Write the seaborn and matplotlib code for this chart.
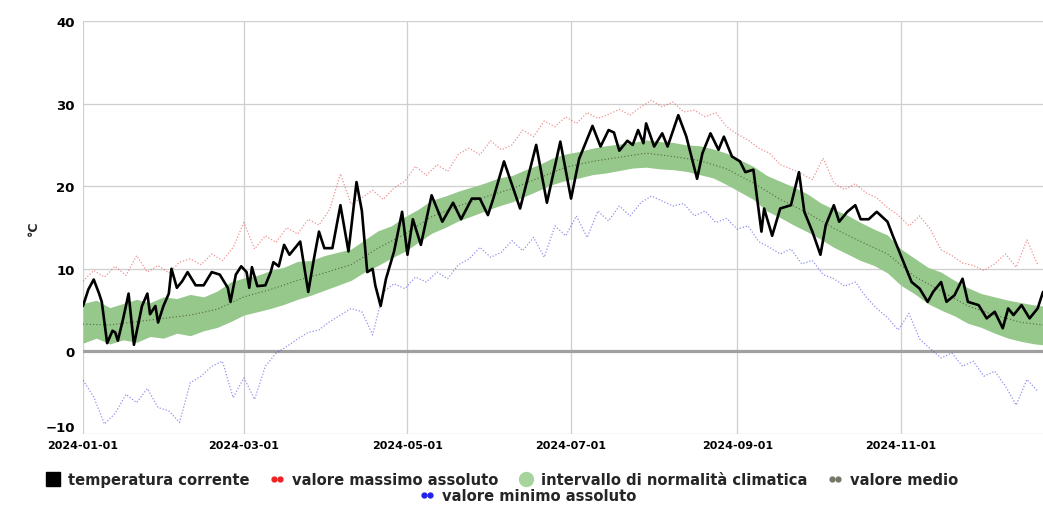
import numpy as np
import pandas as pd
import matplotlib
matplotlib.use("Agg")
import matplotlib.pyplot as plt
import seaborn as sns
from matplotlib.lines import Line2D
from matplotlib.legend_handler import HandlerLine2D

# -----------------------------
# Data (days counted from 2024-01-01)
# -----------------------------
temp_days = [0, 2, 4, 6, 7, 9, 11, 12, 13, 15,
             17, 19, 22, 24, 25, 27, 28, 30, 32, 33,
             35, 37, 39, 42, 45, 48, 51, 54, 55, 57,
             59, 61, 62, 63, 65, 68, 70, 71, 73, 75,
             77, 80, 81, 84, 86, 88, 90, 93, 96, 99,
             102, 104, 106, 108, 109, 111, 113, 116, 119, 121,
             123, 126, 130, 134, 138, 141, 145, 148, 151, 153,
             157, 163, 169, 173, 178, 182, 185, 190, 193, 196,
             198, 200, 203, 205, 207, 209, 210, 213, 216, 218,
             222, 225, 229, 231, 234, 237, 239, 242, 245, 247,
             250, 253, 254, 257, 260, 264, 267, 269, 272, 275,
             277, 280, 282, 285, 288, 290, 293, 296, 300, 302,
             306, 309, 312, 315, 317, 320, 322, 325, 328, 330,
             334, 337, 340, 343, 345, 347, 350, 353, 356, 358]
temp_vals = [5.5, 7.5, 8.7, 7.0, 6.0, 1.0, 2.5, 2.3, 1.3, 4.0,
             7.0, 0.8, 5.5, 7.0, 4.5, 5.5, 3.5, 5.5, 7.0, 10.0,
             7.7, 8.5, 9.6, 8.0, 8.0, 9.6, 9.3, 7.7, 6.0, 9.3,
             10.3, 9.6, 7.7, 10.2, 7.9, 8.0, 9.6, 10.8, 10.3, 12.9,
             11.7, 12.9, 13.3, 7.2, 11.0, 14.5, 12.5, 12.5, 17.7, 12.1,
             20.5, 17.0, 9.6, 10.0, 8.0, 5.5, 8.8, 12.1, 16.9, 11.7,
             16.0, 12.9, 18.9, 15.7, 18.0, 16.0, 18.5, 18.5, 16.5, 18.5,
             23.0, 17.3, 25.0, 18.0, 25.4, 18.5, 23.3, 27.3, 24.8, 26.8,
             26.5, 24.3, 25.5, 25.0, 26.8, 25.2, 27.6, 24.8, 26.4, 24.8,
             28.6, 26.0, 20.9, 24.0, 26.4, 24.4, 26.0, 23.6, 23.0, 21.7,
             22.0, 14.5, 17.3, 14.0, 17.3, 17.7, 21.7, 16.9, 14.5, 11.7,
             15.3, 17.7, 15.7, 16.9, 17.7, 16.0, 16.0, 16.9, 15.7, 14.0,
             10.8, 8.4, 7.6, 6.0, 7.2, 8.4, 6.0, 6.8, 8.8, 6.0,
             5.6, 4.0, 4.8, 2.8, 5.2, 4.4, 5.6, 4.0, 5.2, 7.2]

ext_days = list(range(0, 357, 4))
max_vals = [8.5, 9.8, 9.0, 10.3, 9.2, 11.6, 9.6, 10.4, 9.5, 10.8,
            11.2, 10.5, 11.8, 11.0, 12.6, 15.6, 12.4, 14.0, 13.2, 15.0,
            14.2, 16.0, 15.3, 17.2, 21.5, 17.8, 18.6, 19.5, 18.4, 19.8,
            20.6, 22.4, 21.3, 22.6, 21.8, 23.9, 24.6, 23.8, 25.5, 24.4,
            25.0, 26.8, 26.0, 27.9, 27.2, 28.4, 27.6, 28.9, 28.2, 28.7,
            29.3, 28.6, 29.6, 30.4, 29.6, 30.2, 29.0, 29.2, 28.4, 28.9,
            27.2, 26.3, 25.6, 24.6, 24.0, 22.6, 22.1, 21.5, 20.8, 23.4,
            20.4, 19.6, 20.3, 19.2, 18.6, 17.4, 16.5, 15.2, 16.4, 14.8,
            12.3, 11.6, 10.7, 10.4, 9.8, 10.6, 11.8, 10.2, 13.5, 10.5]
min_vals = [-3.5, -5.5, -8.8, -7.5, -5.2, -6.2, -4.5, -6.8, -7.2, -8.6,
            -3.8, -3.0, -1.8, -1.2, -5.6, -3.2, -5.8, -1.8, -0.2, 0.6,
            1.5, 2.3, 2.6, 3.6, 4.4, 5.2, 4.8, 2.0, 7.2, 8.2,
            7.6, 9.0, 8.4, 9.6, 8.8, 10.5, 11.2, 12.6, 11.4, 12.0,
            13.4, 12.2, 13.8, 11.4, 15.2, 14.0, 16.4, 13.8, 17.0, 15.8,
            17.6, 16.4, 18.0, 18.8, 18.2, 17.6, 17.9, 16.4, 17.0, 15.6,
            16.1, 14.8, 15.2, 13.3, 12.6, 11.8, 12.4, 10.6, 11.0, 9.3,
            8.8, 7.9, 8.4, 6.6, 5.2, 4.1, 2.6, 4.6, 1.5, 0.3,
            -0.8, -0.2, -1.8, -1.2, -3.0, -2.4, -4.2, -6.5, -3.4, -4.8]

band_days = list(range(0, 356, 5)) + [358]
band_high = [5.8, 6.2, 5.3, 5.8, 6.3, 5.9, 6.6, 6.4, 6.9, 6.6,
             7.3, 8.4, 8.9, 9.2, 9.8, 10.2, 10.9, 11.0, 11.6, 12.0,
             12.4, 13.5, 14.6, 15.2, 16.3, 17.2, 18.3, 18.8, 19.4, 19.9,
             20.4, 21.0, 21.3, 22.0, 22.6, 23.4, 23.9, 24.2, 24.6, 24.9,
             25.1, 25.3, 25.6, 25.4, 25.3, 25.0, 24.9, 24.5, 24.0, 23.2,
             22.4, 21.3, 20.6, 19.9, 19.1, 18.0, 17.2, 16.5, 15.6, 14.8,
             14.1, 12.4, 11.3, 10.2, 9.6, 8.6, 7.7, 7.0, 6.6, 6.2,
             5.9, 5.6, 5.5]
band_low = [1.0, 1.6, 0.9, 1.4, 1.1, 1.8, 1.6, 2.2, 1.9, 2.5,
            2.9, 3.6, 4.4, 4.8, 5.2, 5.7, 6.3, 6.8, 7.4, 8.0,
            8.6, 9.6, 10.4, 11.3, 12.1, 13.2, 14.3, 15.0, 15.8, 16.4,
            17.0, 17.6, 18.1, 18.8, 19.5, 20.2, 20.7, 21.0, 21.4, 21.6,
            21.9, 22.2, 22.3, 22.1, 22.0, 21.8, 21.4, 21.0, 20.2, 19.3,
            18.4, 17.0, 16.2, 15.3, 14.5, 13.6, 12.6, 11.8, 11.0, 10.4,
            9.5, 8.0, 7.0, 5.8, 5.0, 4.3, 3.4, 2.9, 2.2, 1.6,
            1.2, 0.9, 0.8]

mean_days = list(range(0, 351, 10)) + [358]
mean_vals = [3.3, 3.2, 3.6, 4.0, 4.4, 5.1, 6.6, 7.5, 8.6, 9.5,
             10.5, 12.5, 14.2, 16.3, 17.6, 18.7, 19.7, 21.0, 22.3, 23.0,
             23.5, 24.0, 23.6, 23.1, 22.1, 20.4, 18.4, 16.8, 14.9, 13.3,
             11.8, 9.1, 7.3, 5.5, 4.4, 3.5, 3.2]

tick_dates = ["2024-01-01", "2024-03-01", "2024-05-01",
              "2024-07-01", "2024-09-01", "2024-11-01"]
y_ticks = [-10, 0, 10, 20, 30, 40]
legend_labels = ["temperatura corrente", "valore massimo assoluto",
                 "intervallo di normalità climatica", "valore medio",
                 "valore minimo assoluto"]

start = pd.Timestamp("2024-01-01")


def to_dates(days):
    return start + pd.to_timedelta(days, unit="D")


# -----------------------------
# Plot
# -----------------------------
sns.set_theme(style="white")
plt.rcParams["font.family"] = ["DejaVu Sans"]
plt.rcParams["font.weight"] = "bold"

fig = plt.figure(figsize=(10.43, 5.06), dpi=100)
ax = fig.add_axes([83 / 1043, 71 / 506, 960 / 1043, 413 / 506])

green = "#96c88c"
ax.fill_between(to_dates(band_days), band_low, band_high, color=green, lw=0, zorder=1)
ax.axhline(0, color="#a0a0a0", lw=2.3, zorder=1.5)

sns.lineplot(x=to_dates(mean_days), y=mean_vals, ax=ax, color="#556644",
             lw=0.8, linestyle=(0, (1, 2)), zorder=2)
sns.lineplot(x=to_dates(ext_days), y=max_vals, ax=ax, color="#e84848",
             lw=0.9, linestyle=(0, (1, 1.5)), alpha=0.6, zorder=3)
sns.lineplot(x=to_dates(ext_days), y=min_vals, ax=ax, color="#4848e0",
             lw=0.9, linestyle=(0, (1, 1.5)), alpha=0.6, zorder=3)
sns.lineplot(x=to_dates(temp_days), y=temp_vals, ax=ax, color="black",
             lw=1.9, zorder=5)

ax.set_xlim(start, start + pd.Timedelta(days=358))
ax.set_ylim(-10, 40)
ax.set_yticks(y_ticks)
ax.set_xticks(pd.to_datetime(tick_dates))
ax.set_xticklabels(tick_dates)
ax.grid(True, color="#cfcfcf", lw=0.9)
ax.set_axisbelow(True)
for s in ax.spines.values():
    s.set_visible(False)
ax.tick_params(length=0, colors="black")
ax.tick_params(axis="x", pad=4, labelsize=8)
ax.tick_params(axis="y", pad=6, labelsize=9.5)
# lowest y label sits just above the bottom grid line, clear of the dates
ax.get_yticklabels()[0].set_verticalalignment("bottom")
ax.set_xlabel("")
ax.set_ylabel("°C", fontsize=9, fontweight="bold")
ax.yaxis.set_label_coords(-0.045, 0.5)

# Legend
h_temp = Line2D([], [], marker="s", color="black", linestyle="None", markersize=10)
h_max = Line2D([], [], marker="o", color="#ee2222", linestyle="None", markersize=3.5)
h_band = Line2D([], [], marker="o", color="#a6d49c", linestyle="None", markersize=10)
h_mean = Line2D([], [], marker="o", color="#777766", linestyle="None", markersize=3.5)
h_min = Line2D([], [], marker="o", color="#2222ee", linestyle="None", markersize=3.5)
single = {h_temp: HandlerLine2D(numpoints=1), h_band: HandlerLine2D(numpoints=1)}

fig.legend([h_temp, h_max, h_band, h_mean], legend_labels[:4], loc="center",
           bbox_to_anchor=(502 / 1043, 1 - 481 / 506), ncol=4, frameon=False,
           fontsize=10.6, numpoints=2, handlelength=1.0, handletextpad=0.5,
           columnspacing=1.4, handler_map=single)
fig.legend([h_min], legend_labels[4:], loc="center",
           bbox_to_anchor=(528 / 1043, 1 - 497 / 506), frameon=False,
           fontsize=10.6, numpoints=2, handlelength=1.0, handletextpad=0.5)

fig.savefig("out.png", dpi=100)
